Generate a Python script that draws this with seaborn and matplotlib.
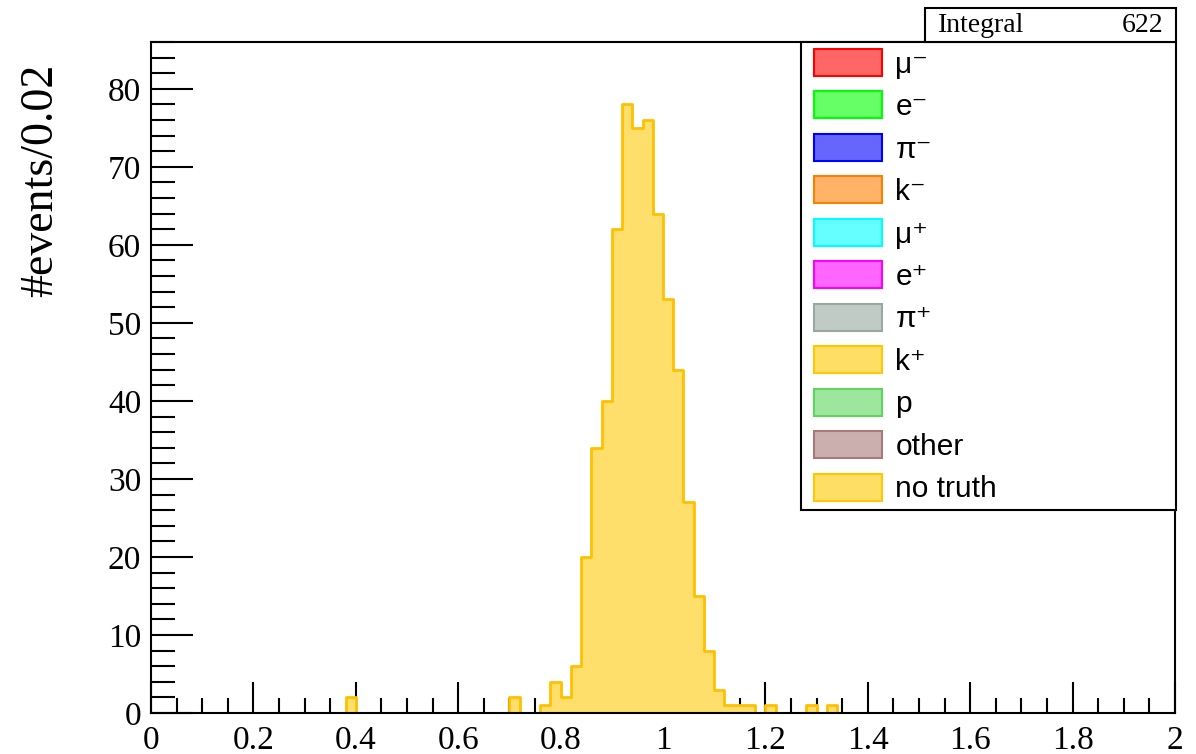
import numpy as np
import pandas as pd
import matplotlib
matplotlib.use("Agg")
import matplotlib.pyplot as plt
import seaborn as sns
from matplotlib.patches import Patch, Rectangle
from matplotlib.ticker import MultipleLocator, FuncFormatter

# ---- data ----
bin_width = 0.02
bin_lows = [0.38, 0.70, 0.76, 0.78, 0.80, 0.82, 0.84, 0.86, 0.88, 0.90, 0.92,
            0.94, 0.96, 0.98, 1.00, 1.02, 1.04, 1.06, 1.08, 1.10, 1.12, 1.14,
            1.16, 1.20, 1.28, 1.32]
counts = [2, 2, 1, 4, 2, 6, 20, 34, 40, 62, 78,
          75, 76, 64, 53, 44, 27, 15, 8, 3, 1, 1,
          1, 1, 1, 1]
legend_labels = ["μ⁻", "e⁻", "π⁻", "k⁻", "μ⁺", "e⁺", "π⁺", "k⁺",
                 "p", "other", "no truth"]
legend_colors = ["#FF0000", "#00FF00", "#0000FF", "#FF8000", "#00FFFF",
                 "#FF00FF", "#98A89E", "#FFC800", "#5CD65C", "#A87A7A", "#FFC800"]
integral_label = "Integral"
integral_value = "622"
y_label = "#events/0.02"

sns.set_theme(style="white")
plt.rcParams["font.family"] = ["Liberation Serif", "DejaVu Serif"]
plt.rcParams["text.color"] = "black"
plt.rcParams["axes.labelcolor"] = "black"
plt.rcParams["xtick.color"] = "black"
plt.rcParams["ytick.color"] = "black"

W, H = 1196, 754
fig = plt.figure(figsize=(W / 100, H / 100), dpi=100)
ax = fig.add_axes([151 / W, 1 - 713 / H, (1175 - 151) / W, (713 - 42) / H])

df = pd.DataFrame({"x": np.array(bin_lows) + bin_width / 2, "w": counts})

def lighten(c, f=0.55):
    r, g, b = matplotlib.colors.to_rgb(c)
    return (r + (1 - r) * f, g + (1 - g) * f, b + (1 - b) * f)

sns.histplot(data=df, x="x", weights="w", binwidth=bin_width, binrange=(0, 2),
             element="step", fill=True,
             facecolor=lighten("#FFC800", 0.42), edgecolor="#FFC000",
             linewidth=2, alpha=1, ax=ax)

ax.set_xlim(0, 2)
ax.set_ylim(0, 86)
ax.set_xlabel("")
ax.set_ylabel(y_label, fontsize=33, color="black")
ax.yaxis.label.set_verticalalignment("center")
ax.yaxis.set_label_coords(-0.108, 0.794)

ax.xaxis.set_major_locator(MultipleLocator(0.2))
ax.xaxis.set_minor_locator(MultipleLocator(0.05))
ax.yaxis.set_major_locator(MultipleLocator(10))
ax.yaxis.set_minor_locator(MultipleLocator(2))
ax.tick_params(axis="both", which="both", direction="in", color="black",
               labelcolor="black", left=True, bottom=True, top=False, right=False)
ax.tick_params(axis="x", which="major", length=22, width=1.5, labelsize=24, pad=9)
ax.tick_params(axis="x", which="minor", length=11, width=1.5)
ax.tick_params(axis="y", which="major", length=30, width=1.5, labelsize=24, pad=7)
ax.tick_params(axis="y", which="minor", length=17, width=1.5)
ax.xaxis.set_major_formatter(FuncFormatter(lambda v, p: f"{round(v, 1):g}"))
for s in ax.spines.values():
    s.set_color("black")
    s.set_linewidth(1.5)
    s.set_zorder(5)

# legend frame
fig.patches.append(Rectangle((801 / W, 1 - 510 / H), (1176 - 801) / W, (510 - 42) / H,
                             transform=fig.transFigure, facecolor="white",
                             edgecolor="black", linewidth=1.5, zorder=8))
# legend entries
fs = 21.5
px = fs * 100 / 72
handles = [Patch(facecolor=lighten(c, 0.4), edgecolor=c, linewidth=1.5)
           for c in legend_colors]
leg = fig.legend(handles, legend_labels, loc="upper left",
                 bbox_to_anchor=(814 / W, 1 - 49 / H),
                 frameon=False,
                 handlelength=68 / px, handleheight=30 / px,
                 handletextpad=0.45, labelspacing=0.43, borderpad=0.0,
                 borderaxespad=0,
                 prop={"family": ["Liberation Sans", "DejaVu Sans"], "size": fs})
leg.set_zorder(9)

# stats box
fig.patches.append(Rectangle((925 / W, 1 - 42 / H), (1176 - 925) / W, 34 / H,
                             transform=fig.transFigure, facecolor="white",
                             edgecolor="black", linewidth=1.5, zorder=10))
fig.text(938 / W, 1 - 25 / H, integral_label, fontsize=20, va="center", ha="left",
         zorder=11)
fig.text(1163 / W, 1 - 26 / H, integral_value, fontsize=20, va="center", ha="right",
         zorder=11)

fig.savefig("out.png", dpi=100, facecolor="white")
